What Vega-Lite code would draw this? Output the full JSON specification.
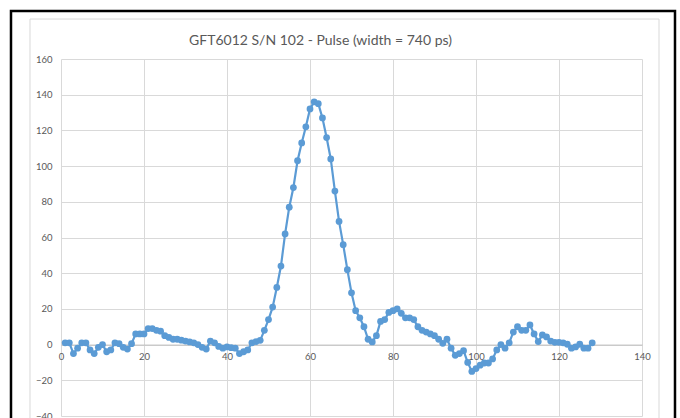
{
  "$schema": "https://vega.github.io/schema/vega-lite/v6.json",
  "width": 581,
  "height": 357,
  "autosize": {"type": "none"},
  "padding": {"left": 61, "top": 59, "right": 38, "bottom": 2},
  "background": "white",
  "config": {"view": {"stroke": null}, "font": "Lato"},
  "title": {"text": "GFT6012 S/N 102 - Pulse (width = 740 ps)", "frame": "group", "font": "Lato", "fontSize": 14, "fontWeight": "normal", "color": "#595959", "offset": 0, "dy": 38, "dx": -31},
  "datasets": {
    "pulse": [
      {"t":1,"v":1},{"t":2,"v":1},{"t":3,"v":-5},{"t":4,"v":-2},{"t":5,"v":1},{"t":6,"v":1},{"t":7,"v":-3},{"t":8,"v":-5},{"t":9,"v":-1.5},{"t":10,"v":0},
      {"t":11,"v":-4},{"t":12,"v":-3},{"t":13,"v":1},{"t":14,"v":0.5},{"t":15,"v":-1.5},{"t":16,"v":-2.5},{"t":17,"v":0.5},{"t":18,"v":6},{"t":19,"v":6},{"t":20,"v":6},
      {"t":21,"v":9},{"t":22,"v":9},{"t":23,"v":8},{"t":24,"v":7.5},{"t":25,"v":5},{"t":26,"v":4},{"t":27,"v":3},{"t":28,"v":3},{"t":29,"v":2.5},{"t":30,"v":2},
      {"t":31,"v":1.5},{"t":32,"v":1},{"t":33,"v":0},{"t":34,"v":-1.5},{"t":35,"v":-2.5},{"t":36,"v":2},{"t":37,"v":1},{"t":38,"v":-1},{"t":39,"v":-2},{"t":40,"v":-1.3},
      {"t":41,"v":-1.7},{"t":42,"v":-2},{"t":43,"v":-5},{"t":44,"v":-4},{"t":45,"v":-3},{"t":46,"v":1},{"t":47,"v":1.7},{"t":48,"v":2.4},{"t":49,"v":8},{"t":50,"v":14},
      {"t":51,"v":21},{"t":52,"v":32},{"t":53,"v":44},{"t":54,"v":62},{"t":55,"v":77},{"t":56,"v":88},{"t":57,"v":103},{"t":58,"v":113},{"t":59,"v":122},{"t":60,"v":132},
      {"t":61,"v":136},{"t":62,"v":135},{"t":63,"v":127},{"t":64,"v":116},{"t":65,"v":104},{"t":66,"v":86},{"t":67,"v":69},{"t":68,"v":56},{"t":69,"v":42},{"t":70,"v":29},
      {"t":71,"v":19},{"t":72,"v":15},{"t":73,"v":10},{"t":74,"v":3},{"t":75,"v":1.5},{"t":76,"v":5},{"t":77,"v":13},{"t":78,"v":14},{"t":79,"v":18},{"t":80,"v":19},
      {"t":81,"v":20},{"t":82,"v":17.5},{"t":83,"v":15},{"t":84,"v":15},{"t":85,"v":14},{"t":86,"v":10},{"t":87,"v":8},{"t":88,"v":7},{"t":89,"v":6},{"t":90,"v":5},
      {"t":91,"v":3},{"t":92,"v":0.7},{"t":93,"v":3},{"t":94,"v":-2},{"t":95,"v":-6},{"t":96,"v":-5},{"t":97,"v":-3.4},{"t":98,"v":-10},{"t":99,"v":-15},{"t":100,"v":-13.4},
      {"t":101,"v":-11.5},{"t":102,"v":-10.3},{"t":103,"v":-10.3},{"t":104,"v":-8},{"t":105,"v":-3},{"t":106,"v":0},{"t":107,"v":-2},{"t":108,"v":1},{"t":109,"v":7},{"t":110,"v":10},
      {"t":111,"v":8},{"t":112,"v":8},{"t":113,"v":11},{"t":114,"v":6},{"t":115,"v":1.7},{"t":116,"v":5.4},{"t":117,"v":4.3},{"t":118,"v":2},{"t":119,"v":1.3},{"t":120,"v":1.3},
      {"t":121,"v":1},{"t":122,"v":0.2},{"t":123,"v":-2},{"t":124,"v":-1.3},{"t":125,"v":0.2},{"t":126,"v":-2},{"t":127,"v":-2},{"t":128,"v":1}
    ]
  },
  "layer": [
    {
      "data": {"values": [{"frame": "inner"}]},
      "mark": {"type": "rect", "fill": null, "stroke": "#D9D9D9", "strokeWidth": 1},
      "encoding": {
        "x": {"datum": -7.47, "type": "quantitative", "scale": {"domain": [0, 140], "nice": false, "zero": false},
              "axis": {"values": [0,20,40,60,80,100,120,140], "title": null, "grid": true, "gridColor": "#D9D9D9", "domainColor": "#BFBFBF", "ticks": false, "labelPadding": 7, "labelFont": "Lato", "labelFontSize": 9.5, "labelColor": "#595959", "labelFlush": false, "offset": -71.4}},
        "x2": {"datum": 144.1},
        "y": {"datum": 182.4, "type": "quantitative", "scale": {"domain": [-40, 160], "nice": false, "zero": false},
              "axis": {"values": [-40,-20,0,20,40,60,80,100,120,140,160], "title": null, "grid": true, "gridColor": "#D9D9D9", "domain": false, "ticks": false, "labelPadding": 9, "labelFont": "Lato", "labelFontSize": 9.5, "labelColor": "#595959", "labelFlush": false}},
        "y2": {"datum": -50}
      }
    },
    {
      "data": {"values": [{"frame": "outer"}]},
      "mark": {"type": "rect", "fill": null, "stroke": "black", "strokeWidth": 2.5},
      "encoding": {
        "x": {"datum": -12.05, "type": "quantitative", "scale": {"domain": [0, 140], "nice": false, "zero": false},
              "axis": {"values": [0,20,40,60,80,100,120,140], "title": null, "grid": true, "gridColor": "#D9D9D9", "domainColor": "#BFBFBF", "ticks": false, "labelPadding": 7, "labelFont": "Lato", "labelFontSize": 9.5, "labelColor": "#595959", "labelFlush": false, "offset": -71.4}},
        "x2": {"datum": 147.95},
        "y": {"datum": 186.9, "type": "quantitative", "scale": {"domain": [-40, 160], "nice": false, "zero": false},
              "axis": {"values": [-40,-20,0,20,40,60,80,100,120,140,160], "title": null, "grid": true, "gridColor": "#D9D9D9", "domain": false, "ticks": false, "labelPadding": 9, "labelFont": "Lato", "labelFontSize": 9.5, "labelColor": "#595959", "labelFlush": false}},
        "y2": {"datum": -50}
      }
    },
    {
      "data": {"name": "pulse"},
      "mark": {"type": "line", "color": "#5B9BD5", "strokeWidth": 2.2, "point": {"filled": true, "size": 46, "color": "#5B9BD5", "opacity": 1}},
      "encoding": {
        "x": {"field": "t", "type": "quantitative", "scale": {"domain": [0, 140], "nice": false, "zero": false},
              "axis": {"values": [0,20,40,60,80,100,120,140], "title": null, "grid": true, "gridColor": "#D9D9D9", "domainColor": "#BFBFBF", "ticks": false, "labelPadding": 7, "labelFont": "Lato", "labelFontSize": 9.5, "labelColor": "#595959", "labelFlush": false, "offset": -71.4}},
        "y": {"field": "v", "type": "quantitative", "scale": {"domain": [-40, 160], "nice": false, "zero": false},
              "axis": {"values": [-40,-20,0,20,40,60,80,100,120,140,160], "title": null, "grid": true, "gridColor": "#D9D9D9", "domain": false, "ticks": false, "labelPadding": 9, "labelFont": "Lato", "labelFontSize": 9.5, "labelColor": "#595959", "labelFlush": false}}
      }
    }
  ]
}
